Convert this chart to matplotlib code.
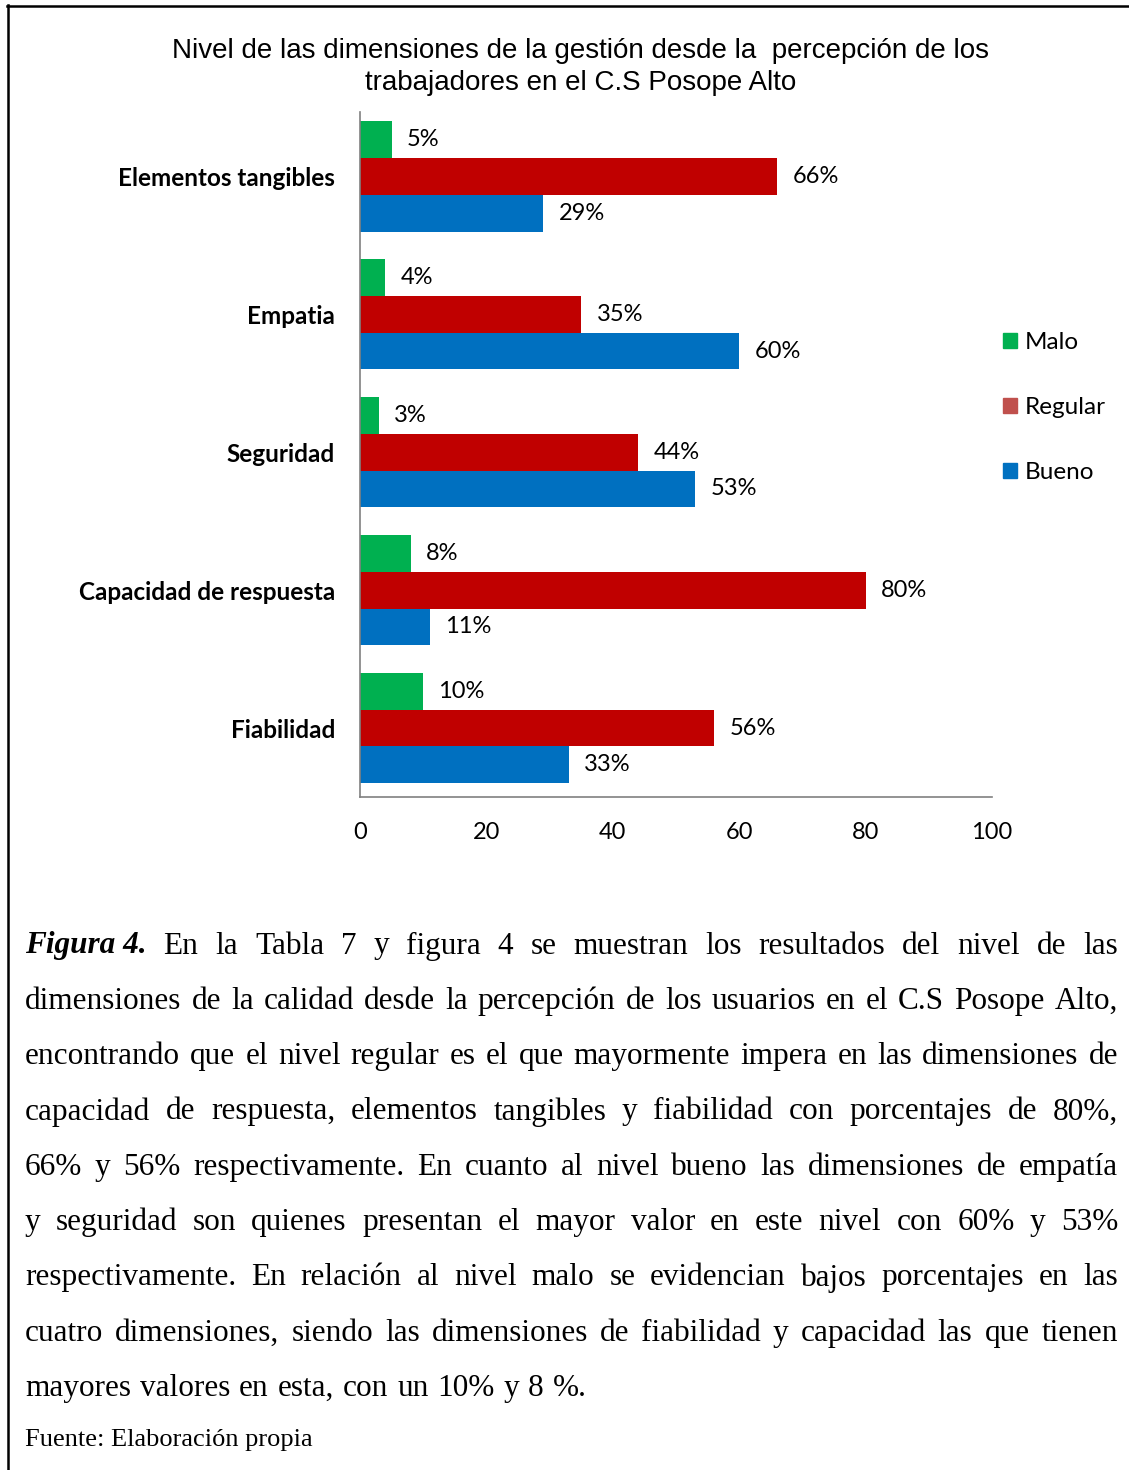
import matplotlib
matplotlib.use("Agg")
import matplotlib.pyplot as plt
from matplotlib.patches import Patch
from matplotlib.lines import Line2D
import numpy as np

# data
categorias = ["Elementos tangibles", "Empatia", "Seguridad",
              "Capacidad de respuesta", "Fiabilidad"]
malo = [5, 4, 3, 8, 10]
regular = [66, 35, 44, 80, 56]
bueno = [29, 60, 53, 11, 33]
niveles = ["Malo", "Regular", "Bueno"]
xticks = [0, 20, 40, 60, 80, 100]

titulo = ("Nivel de las dimensiones de la gestión desde la  percepción de los\n"
          "trabajadores en el C.S Posope Alto")

lineas = [
    "En la Tabla 7 y figura 4 se muestran los resultados del nivel de las",
    "dimensiones de la calidad desde la percepción de los usuarios en el C.S Posope Alto,",
    "encontrando que el nivel regular es el que mayormente impera en las dimensiones de",
    "capacidad de respuesta, elementos tangibles y fiabilidad con porcentajes de 80%,",
    "66% y 56% respectivamente. En cuanto al nivel bueno las dimensiones de empatía",
    "y seguridad son quienes presentan el mayor valor en este nivel con 60% y 53%",
    "respectivamente. En relación al nivel malo se evidencian bajos porcentajes en las",
    "cuatro dimensiones, siendo las dimensiones de fiabilidad y capacidad las que tienen",
    "mayores valores en esta, con un 10% y 8 %.",
]
fuente = "Fuente: Elaboración propia"

VERDE = "#00B050"
ROJO = "#C00000"
AZUL = "#0070C0"

W, H = 1129, 1470
fig = plt.figure(figsize=(W / 100, H / 100), dpi=100)
fig.patch.set_facecolor("white")

sans = ["Lato", "DejaVu Sans"]

ax = fig.add_axes([360 / W, 1 - 797 / H, 632 / W, 685 / H])
y = np.arange(len(categorias))
h = 0.268
b1 = ax.barh(y - h, malo, height=h, color=VERDE)
b2 = ax.barh(y, regular, height=h, color=ROJO)
b3 = ax.barh(y + h, bueno, height=h, color=AZUL)
for cont, vals in ((b1, malo), (b2, regular), (b3, bueno)):
    ax.bar_label(cont, labels=[f"{v}%" for v in vals], padding=11,
                 fontsize=17, family=sans)

ax.set_xlim(0, 100)
ax.set_ylim(4.5, -0.464)
ax.set_xticks(xticks)
ax.set_xticklabels([str(t) for t in xticks], fontsize=17, family=sans)
ax.set_yticks(y)
ax.set_yticklabels(categorias, fontsize=17.5, fontweight="bold", family=sans)
ax.tick_params(length=0, pad=18, axis="x")
ax.tick_params(length=0, pad=18, axis="y")
for s in ("top", "right"):
    ax.spines[s].set_visible(False)
for s in ("left", "bottom"):
    ax.spines[s].set_color("#808080")
    ax.spines[s].set_linewidth(1.2)

handles = [Patch(color=VERDE), Patch(color="#C0504D"), Patch(color=AZUL)]
fig.legend(handles, niveles, loc="upper left",
           bbox_to_anchor=(991 / W, 1 - 320 / H), frameon=False,
           prop={"family": sans, "size": 17.5}, handlelength=0.58,
           handleheight=0.58, handletextpad=0.3, labelspacing=1.81,
           borderpad=0)

fig.text(581 / W, 1 - 67 / H, titulo, ha="center", va="center",
         family="Liberation Sans", fontsize=20, linespacing=1.3)

# caption, justified line by line
renderer = fig.canvas.get_renderer()
x0, x1 = 25, 1118
serif = "Liberation Serif"
fs = 22.5
y0 = 946
dy = 55.3


def ancho(t):
    return t.get_window_extent(renderer).width


for i, linea in enumerate(lineas):
    ypix = y0 + i * dy
    yf = 1 - ypix / H
    palabras = linea.split()
    items = []
    if i == 0:
        items.append(("Figura 4.", {"fontweight": "bold", "fontstyle": "italic"}))
    items += [(p, {}) for p in palabras]
    textos = [fig.text(0, yf, p, family=serif, fontsize=fs, va="center", **kw)
              for p, kw in items]
    anchos = [ancho(t) for t in textos]
    if i < len(lineas) - 1:
        hueco = (x1 - x0 - sum(anchos)) / (len(textos) - 1)
    else:
        hueco = ancho(fig.text(0, 0, " ", family=serif, fontsize=fs)) + 1
    x = x0
    for t, w in zip(textos, anchos):
        t.set_x(x / W)
        x += w + hueco

fig.text(x0 / W, 1 - 1440 / H, fuente, family=serif, fontsize=19, va="center")

# border lines (top and left)
fig.add_artist(Line2D([7 / W, 1], [1 - 5.5 / H, 1 - 5.5 / H], color="black",
                      linewidth=1.8, transform=fig.transFigure))
fig.add_artist(Line2D([7.5 / W, 7.5 / W], [0, 1 - 5 / H], color="black",
                      linewidth=1.8, transform=fig.transFigure))

fig.savefig("out.png", dpi=100)
